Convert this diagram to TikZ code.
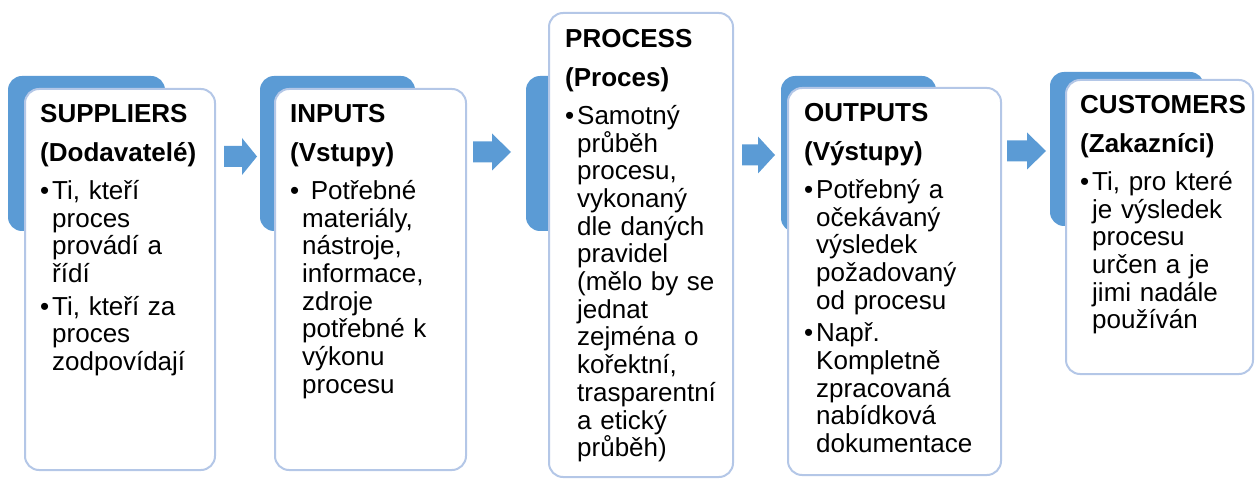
\documentclass[tikz,border=0pt]{standalone}
\usepackage{fontspec}
\setmainfont{Liberation Sans}
\definecolor{backblue}{HTML}{5B9BD5}
\definecolor{edgeblue}{HTML}{B4C7E7}
\tikzset{
  tab/.style={fill=backblue, rounded corners=14pt},
  card/.style={fill=white, draw=edgeblue, line width=2pt, rounded corners=14pt},
  flow/.style={fill=backblue},
  txt/.style={anchor=base west, inner sep=0pt, text width=230pt, align=left,
    font=\fontsize{26}{27.7}\selectfont}
}
\newcommand\bul{\makebox[12pt][l]{•}}
\newcommand\ind{\hspace*{12pt}}
% block arrow: shaft start x, head start x, tip x, centre y
\newcommand\flowarrow[4]{%
  \fill[flow] (#1,#4-10.5) -- (#2,#4-10.5) -- (#2,#4-18.5) -- (#3,#4)
    -- (#2,#4+18.5) -- (#2,#4+10.5) -- (#1,#4+10.5) -- cycle;}
\begin{document}
\begin{tikzpicture}[x=1pt,y=-1pt]
\useasboundingbox (0,0) rectangle (1256,481);

% SUPPLIERS
\fill[tab] (8,76) rectangle (165,231);
\draw[card] (25,89) rectangle (215,470);
\node[txt] (sup) at (40,123) {\textbf{SUPPLIERS}\\[11pt]
  \textbf{(Dodavatelé)}\\[10pt]
  \bul Ti, kteří\\ \ind proces\\ \ind provádí a\\ \ind řídí\\[5pt]
  \bul Ti, kteří za\\ \ind proces\\ \ind zodpovídají};

% INPUTS
\fill[tab] (260,76) rectangle (415,231);
\draw[card] (275,89) rectangle (466,470);
\node[txt] (inp) at (290,123) {\textbf{INPUTS}\\[11pt]
  \textbf{(Vstupy)}\\[10pt]
  \bul\ Potřebné\\ \ind materiály,\\ \ind nástroje,\\ \ind informace,\\
  \ind zdroje\\ \ind potřebné k\\ \ind výkonu\\ \ind procesu};

% PROCESS
\fill[tab] (526,76) rectangle (690,231);
\draw[card] (549,13) rectangle (733,477);
\node[txt] (pro) at (565,48) {\textbf{PROCESS}\\[11pt]
  \textbf{(Proces)}\\[10pt]
  \bul Samotný\\ \ind průběh\\ \ind procesu,\\ \ind vykonaný\\
  \ind dle daných\\ \ind pravidel\\ \ind (mělo by se\\ \ind jednat\\
  \ind zejména o\\ \ind kořektní,\\ \ind trasparentní\\ \ind a etický\\
  \ind průběh)};

% OUTPUTS
\fill[tab] (781,76) rectangle (936,232);
\draw[card] (788,88) rectangle (1001,475);
\node[txt] (out) at (804,122) {\textbf{OUTPUTS}\\[11pt]
  \textbf{(Výstupy)}\\[10pt]
  \bul Potřebný a\\ \ind očekávaný\\ \ind výsledek\\ \ind požadovaný\\
  \ind od procesu\\[5pt]
  \bul Např.\\ \ind Kompletně\\ \ind zpracovaná\\ \ind nabídková\\
  \ind dokumentace};

% CUSTOMERS
\fill[tab] (1050,72) rectangle (1204,226);
\draw[card] (1066,80) rectangle (1253,374);
\node[txt] (cus) at (1080,114) {\textbf{CUSTOMERS}\\[11pt]
  \textbf{(Zakazníci)}\\[10pt]
  \bul Ti, pro které\\ \ind je výsledek\\ \ind procesu\\ \ind určen a je\\
  \ind jimi nadále\\ \ind používán};

% arrows between the stages
\flowarrow{224}{242}{257}{156.5}
\flowarrow{473}{492}{511}{152}
\flowarrow{742}{758}{775}{155}
\flowarrow{1007}{1027}{1046}{151}
\end{tikzpicture}
\end{document}
